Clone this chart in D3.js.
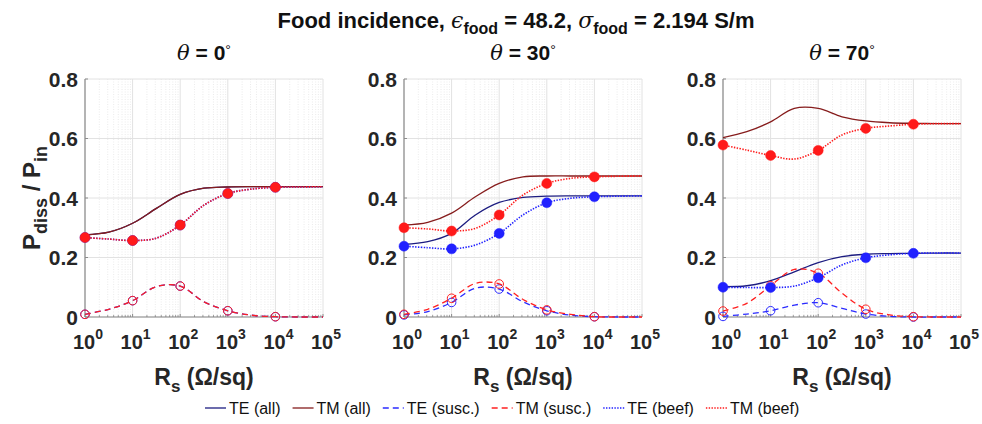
<!DOCTYPE html>
<html>
<head>
<meta charset="utf-8">
<script src="https://cdn.jsdelivr.net/npm/d3@7"></script>
<style>
  body { margin: 0; background: #fff; }
  svg { font-family: "Liberation Sans", Arial, sans-serif; }
</style>
</head>
<body>
<div id="container"></div>
<script>
// sheet resistance samples, half decades (Ohm/sq)
const Rs = [1, 3.16, 10, 31.6, 100, 316, 1000, 3160, 10000, 31600, 100000];
const markerIdx = [0, 2, 4, 6, 8];   // markers at 10^0 .. 10^4
const xTicks = [1, 10, 100, 1000, 10000, 100000];
const xTickExp = ["0", "1", "2", "3", "4", "5"];
const yTicks = [0, 0.2, 0.4, 0.6, 0.8];
const yTickLabels = ["0", "0.2", "0.4", "0.6", "0.8"];
const angles = ["0", "30", "70"];

// theta = 0 : TE and TM coincide at normal incidence
const tm0All  = [0.276, 0.285, 0.315, 0.365, 0.412, 0.433, 0.437, 0.438, 0.438, 0.438, 0.438];
const tm0Susc = [0.009, 0.026, 0.055, 0.102, 0.104, 0.051, 0.021, 0.006, 0.001, 0, 0];
const tm0Beef = [0.267, 0.262, 0.257, 0.265, 0.309, 0.376, 0.415, 0.430, 0.436, 0.437, 0.438];
const te0All  = [0.276, 0.285, 0.315, 0.365, 0.412, 0.433, 0.437, 0.438, 0.438, 0.438, 0.438];
const te0Susc = [0.009, 0.026, 0.055, 0.102, 0.104, 0.051, 0.021, 0.006, 0.001, 0, 0];
const te0Beef = [0.267, 0.262, 0.257, 0.265, 0.309, 0.376, 0.415, 0.430, 0.436, 0.437, 0.438];

// theta = 30
const tm30All  = [0.309, 0.318, 0.349, 0.404, 0.449, 0.471, 0.474, 0.474, 0.474, 0.474, 0.474];
const te30All  = [0.244, 0.253, 0.281, 0.343, 0.385, 0.402, 0.406, 0.407, 0.407, 0.407, 0.407];
const tm30Susc = [0.009, 0.026, 0.063, 0.113, 0.111, 0.059, 0.024, 0.009, 0.001, 0, 0];
const te30Susc = [0.007, 0.018, 0.049, 0.097, 0.094, 0.051, 0.021, 0.006, 0.001, 0, 0];
const tm30Beef = [0.300, 0.296, 0.289, 0.298, 0.343, 0.410, 0.449, 0.466, 0.471, 0.473, 0.474];
const te30Beef = [0.238, 0.233, 0.229, 0.242, 0.281, 0.343, 0.384, 0.399, 0.404, 0.406, 0.407];

// theta = 70
const tm70All  = [0.603, 0.623, 0.656, 0.701, 0.701, 0.673, 0.659, 0.653, 0.651, 0.650, 0.650];
const te70All  = [0.102, 0.105, 0.122, 0.152, 0.183, 0.203, 0.211, 0.213, 0.214, 0.215, 0.215];
const tm70Susc = [0.020, 0.046, 0.105, 0.160, 0.147, 0.080, 0.026, 0.007, 0.001, 0, 0];
const te70Susc = [0.002, 0.010, 0.021, 0.040, 0.048, 0.029, 0.010, 0.002, 0, 0, 0];
const tm70Beef = [0.578, 0.561, 0.543, 0.531, 0.560, 0.612, 0.634, 0.642, 0.648, 0.650, 0.650];
const te70Beef = [0.100, 0.099, 0.099, 0.104, 0.132, 0.175, 0.199, 0.209, 0.214, 0.215, 0.215];

const panels = [
  { angle: angles[0], teAll: te0All, tmAll: tm0All, teSusc: te0Susc, tmSusc: tm0Susc, teBeef: te0Beef, tmBeef: tm0Beef },
  { angle: angles[1], teAll: te30All, tmAll: tm30All, teSusc: te30Susc, tmSusc: tm30Susc, teBeef: te30Beef, tmBeef: tm30Beef },
  { angle: angles[2], teAll: te70All, tmAll: tm70All, teSusc: te70Susc, tmSusc: tm70Susc, teBeef: te70Beef, tmBeef: tm70Beef }
];

// plotting order = legend order
const series = [
  { key: "teAll",  label: "TE (all)",   color: "#1c1c80", dash: null,      width: 1.3, marker: null },
  { key: "tmAll",  label: "TM (all)",   color: "#861c1c", dash: null,      width: 1.3, marker: null },
  { key: "teSusc", label: "TE (susc.)", color: "#2b2bff", dash: "6,4",     width: 1.3, marker: "open" },
  { key: "tmSusc", label: "TM (susc.)", color: "#ff2020", dash: "6,4",     width: 1.3, marker: "open" },
  { key: "teBeef", label: "TE (beef)",  color: "#2020ff", dash: "1.4,1.4", width: 1.6, marker: "filled" },
  { key: "tmBeef", label: "TM (beef)",  color: "#ff1a1a", dash: "1.4,1.4", width: 1.6, marker: "filled" }
];

const width = 982;
const height = 424;
const panelLeft = [85, 404, 723];
const panelWidth = 238;
const plotTop = 79;
const plotBottom = 317;

const svg = d3.select("#container")
  .append("svg")
  .attr("width", width)
  .attr("height", height);

const y = d3.scaleLinear().domain([0, 0.8]).range([plotBottom, plotTop]);

// figure title
const title = svg.append("text")
  .attr("x", 516).attr("y", 28)
  .attr("text-anchor", "middle")
  .attr("font-size", 22).attr("font-weight", "bold").attr("fill", "#111");
title.append("tspan").text("Food incidence, ");
title.append("tspan").text("ϵ").attr("font-style", "italic").attr("font-weight", "normal").attr("font-family", "DejaVu Serif");
title.append("tspan").text("food").attr("font-size", 16).attr("dy", 6);
title.append("tspan").text(" = 48.2, ").attr("dy", -6);
title.append("tspan").text("σ").attr("font-style", "italic").attr("font-weight", "normal").attr("font-family", "DejaVu Serif");
title.append("tspan").text("food").attr("font-size", 16).attr("dy", 6);
title.append("tspan").text(" = 2.194 S/m").attr("dy", -6);

panels.forEach((p, i) => {
  const left = panelLeft[i];
  const x = d3.scaleLog().domain([1, 1e5]).range([left, left + panelWidth]);
  const g = svg.append("g");

  // minor grid (log x)
  const minor = x.ticks().filter(v => !xTicks.includes(v));
  g.selectAll(".minor").data(minor).join("line")
    .attr("x1", d => x(d)).attr("x2", d => x(d))
    .attr("y1", plotTop).attr("y2", plotBottom)
    .attr("stroke", "#e6e6e6").attr("stroke-width", 0.8).attr("stroke-dasharray", "1,1.5");

  // major grid
  g.selectAll(".gx").data(xTicks).join("line")
    .attr("x1", d => x(d)).attr("x2", d => x(d))
    .attr("y1", plotTop).attr("y2", plotBottom)
    .attr("stroke", "#e2e2e2").attr("stroke-width", 1);
  g.selectAll(".gy").data(yTicks).join("line")
    .attr("x1", left).attr("x2", left + panelWidth)
    .attr("y1", d => y(d)).attr("y2", d => y(d))
    .attr("stroke", "#e2e2e2").attr("stroke-width", 1);

  // axis lines and inward ticks
  g.append("line").attr("x1", left).attr("x2", left).attr("y1", plotTop).attr("y2", plotBottom)
    .attr("stroke", "#8c8c8c").attr("stroke-width", 1.2);
  g.append("line").attr("x1", left).attr("x2", left + panelWidth).attr("y1", plotBottom).attr("y2", plotBottom)
    .attr("stroke", "#8c8c8c").attr("stroke-width", 1.2);
  g.selectAll(".ty").data(yTicks).join("line")
    .attr("x1", left).attr("x2", left + 3)
    .attr("y1", d => y(d)).attr("y2", d => y(d))
    .attr("stroke", "#8c8c8c");
  g.selectAll(".tx").data(x.ticks()).join("line")
    .attr("x1", d => x(d)).attr("x2", d => x(d))
    .attr("y1", plotBottom).attr("y2", d => plotBottom - (xTicks.includes(d) ? 3 : 1.8))
    .attr("stroke", "#8c8c8c");

  // tick labels
  g.selectAll(".yl").data(yTicks).join("text")
    .attr("x", left - 7).attr("y", d => y(d) + 7.5)
    .attr("text-anchor", "end")
    .attr("font-size", 21).attr("font-weight", "bold").attr("fill", "#262626")
    .text((d, j) => yTickLabels[j]);
  const xl = g.selectAll(".xl").data(xTicks).join("text")
    .attr("x", d => x(d) + 3).attr("y", 349)
    .attr("text-anchor", "middle")
    .attr("font-size", 20).attr("font-weight", "bold").attr("fill", "#262626");
  xl.append("tspan").text("10");
  xl.append("tspan").text((d, j) => xTickExp[j]).attr("font-size", 14).attr("dy", -10);

  // subplot title
  const st = g.append("text")
    .attr("x", left + panelWidth / 2).attr("y", 60)
    .attr("text-anchor", "middle")
    .attr("font-size", 21).attr("font-weight", "bold").attr("fill", "#111");
  st.append("tspan").text("θ").attr("font-style", "italic").attr("font-weight", "normal").attr("font-family", "DejaVu Serif");
  st.append("tspan").text(" = " + p.angle);
  st.append("tspan").text("°").attr("font-size", 14).attr("font-weight", "normal").attr("dy", -5);

  // x label
  const xlab = g.append("text")
    .attr("x", left + panelWidth / 2).attr("y", 385)
    .attr("text-anchor", "middle")
    .attr("font-size", 23).attr("font-weight", "bold").attr("fill", "#262626");
  xlab.append("tspan").text("R");
  xlab.append("tspan").text("s").attr("font-size", 17).attr("dy", 7);
  xlab.append("tspan").text(" (Ω/sq)").attr("dy", -7);

  // curves and markers
  const line = d3.line()
    .x((d, j) => x(Rs[j]))
    .y(d => y(d))
    .curve(d3.curveCatmullRom.alpha(0.5));

  series.forEach(s => {
    const vals = p[s.key];
    g.append("path")
      .attr("d", line(vals))
      .attr("fill", "none")
      .attr("stroke", s.color)
      .attr("stroke-width", s.width)
      .attr("stroke-dasharray", s.dash);
    if (s.marker) {
      g.selectAll(null).data(markerIdx).join("circle")
        .attr("cx", j => x(Rs[j]))
        .attr("cy", j => y(vals[j]))
        .attr("r", s.marker === "filled" ? 5 : 4.3)
        .attr("fill", s.marker === "filled" ? s.color : "none")
        .attr("stroke", s.color)
        .attr("stroke-width", s.marker === "filled" ? 0.5 : 1);
    }
  });
});

// y label
const ylab = svg.append("text")
  .attr("transform", "translate(40,198) rotate(-90)")
  .attr("text-anchor", "middle")
  .attr("font-size", 24).attr("font-weight", "bold").attr("fill", "#262626");
ylab.append("tspan").text("P");
ylab.append("tspan").text("diss").attr("font-size", 18).attr("dy", 7);
ylab.append("tspan").text(" / P").attr("dy", -7);
ylab.append("tspan").text("in").attr("font-size", 18).attr("dy", 7);

// legend
const legend = svg.append("g");
let lx = 205;
series.forEach(s => {
  legend.append("line")
    .attr("x1", lx).attr("x2", lx + 21)
    .attr("y1", 408).attr("y2", 408)
    .attr("stroke", s.color).attr("stroke-width", s.width)
    .attr("stroke-dasharray", s.dash);
  const t = legend.append("text")
    .attr("x", lx + 24).attr("y", 414)
    .attr("font-size", 16).attr("fill", "#111")
    .text(s.label);
  lx += 24 + t.node().getComputedTextLength() + 12;
});
</script>
</body>
</html>
